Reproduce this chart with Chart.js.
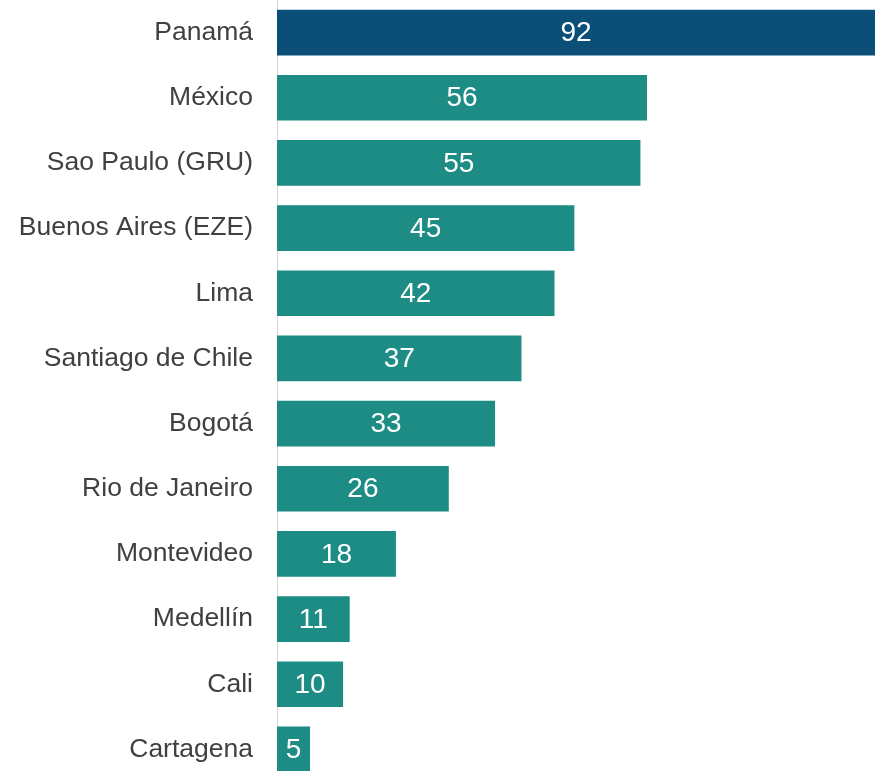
<!DOCTYPE html>
<html>
<head>
<meta charset="utf-8">
<script src="https://cdn.jsdelivr.net/npm/chart.js@4.4.1/dist/chart.umd.min.js"></script>
<style>
    html, body { margin: 0; padding: 0; overflow: hidden; background: #fff; }
    #wrap { width: 878px; height: 782px; position: relative; }
</style>
</head>
<body>
<div id="wrap"><canvas id="myChart"></canvas></div>
<script>
const cities = ["Panamá", "México", "Sao Paulo (GRU)", "Buenos Aires (EZE)", "Lima", "Santiago de Chile",
    "Bogotá", "Rio de Janeiro", "Montevideo", "Medellín", "Cali", "Cartagena"];
const routes = [92, 56, 55, 45, 42, 37, 33, 26, 18, 11, 10, 5];
const barColors = ["#0b4f79", "#1c8c84", "#1c8c84", "#1c8c84", "#1c8c84", "#1c8c84",
    "#1c8c84", "#1c8c84", "#1c8c84", "#1c8c84", "#1c8c84", "#1c8c84"];

// white number in the middle of each bar (visible part)
const valueLabels = {
    id: 'valueLabels',
    afterDatasetsDraw(chart) {
        const ctx = chart.ctx;
        const area = chart.chartArea;
        const meta = chart.getDatasetMeta(0);
        ctx.save();
        ctx.fillStyle = "#ffffff";
        ctx.font = "28px 'Liberation Sans', Arial, sans-serif";
        ctx.textAlign = "center";
        ctx.textBaseline = "middle";
        meta.data.forEach((bar, i) => {
            let end = Math.min(bar.x, area.right);
            let mid = (bar.base + end) / 2;
            ctx.fillText(routes[i], mid, bar.y + 1);
        });
        ctx.restore();
    }
};

var mychart = new Chart("myChart", {
    type: "bar",
    data: {
        labels: cities,
        datasets: [{
            data: routes,
            backgroundColor: barColors,
            borderWidth: 0,
            barPercentage: 0.7,
            categoryPercentage: 1.0,
        }]
    },
    options: {
        indexAxis: 'y',
        responsive: true,
        maintainAspectRatio: false,
        animation: false,
        layout: { padding: { top: 0, right: 3, bottom: 0, left: 0 } },
        plugins: {
            legend: { display: false },
            tooltip: { enabled: false },
        },
        scales: {
            x: {
                display: false,
                min: 0,
                max: 90.5,
            },
            y: {
                grid: { display: false, drawTicks: false },
                border: { display: true, color: "#d9d9d9", width: 1 },
                ticks: {
                    color: "#404040",
                    padding: 24,
                    font: { family: "'Liberation Sans', Arial, sans-serif", size: 26.5 },
                },
                afterFit: function (scale) {
                    scale.width = 277;
                    scale.paddingTop = 0;
                    scale.paddingBottom = 0;
                },
            },
        },
    },
    plugins: [valueLabels]
});
</script>
</body>
</html>
